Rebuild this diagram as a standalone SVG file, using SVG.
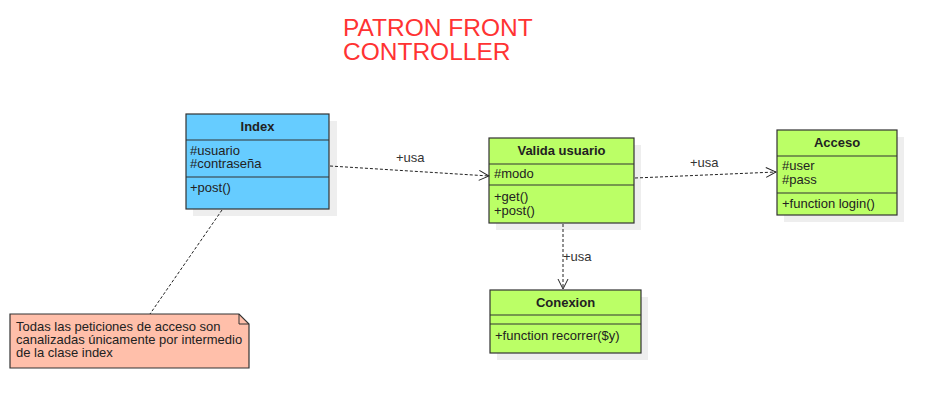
<svg xmlns="http://www.w3.org/2000/svg" width="937" height="410" viewBox="0 0 937 410">
<defs>
<style>
.box{stroke:#333;stroke-width:1.2}
.blue{fill:#66ccff}
.green{fill:#bbff66}
.sh{fill:#eeeeee}
.sep{stroke:#333;stroke-width:1.2}
text{font-family:"Liberation Sans",Arial,sans-serif;font-size:13px;fill:#222}
.t{font-weight:bold;text-anchor:middle}
.lbl{fill:#333}
.dash{fill:none;stroke:#222;stroke-width:1;stroke-dasharray:3,2}
.title{font-size:24.5px;fill:#ff3333}
</style>
<marker id="arr" viewBox="0 0 12 12" refX="11" refY="6" markerWidth="12" markerHeight="12" markerUnits="userSpaceOnUse" orient="auto">
<path d="M1,1 L11,6 L1,11" fill="none" stroke="#222" stroke-width="1"/>
</marker>
</defs>
<rect width="937" height="410" fill="#ffffff"/>
<g id="title">
<text class="title" x="343" y="36">PATRON FRONT</text>
<text class="title" x="343" y="60">CONTROLLER</text>
</g>
<g id="index">
<rect class="sh" x="193" y="121" width="144" height="95"/>
<rect class="box blue" x="186" y="114" width="143" height="95"/>
<line class="sep" x1="186" y1="140" x2="329" y2="140"/>
<line class="sep" x1="186" y1="177" x2="329" y2="177"/>
<text class="t" x="257.5" y="131">Index</text>
<text x="190" y="155">#usuario</text>
<text x="190" y="168">#contraseña</text>
<text x="190" y="192">+post()</text>
</g>
<g id="valida">
<rect class="sh" x="496" y="145" width="145" height="85"/>
<rect class="box green" x="489" y="138" width="145" height="85"/>
<line class="sep" x1="489" y1="164" x2="634" y2="164"/>
<line class="sep" x1="489" y1="185" x2="634" y2="185"/>
<text class="t" x="561.5" y="155">Valida usuario</text>
<text x="494" y="178">#modo</text>
<text x="494" y="201">+get()</text>
<text x="494" y="215">+post()</text>
</g>
<g id="acceso">
<rect class="sh" x="784" y="137" width="120" height="85"/>
<rect class="box green" x="777" y="130" width="120" height="85"/>
<line class="sep" x1="777" y1="156" x2="897" y2="156"/>
<line class="sep" x1="777" y1="193" x2="897" y2="193"/>
<text class="t" x="837" y="147">Acceso</text>
<text x="782" y="170">#user</text>
<text x="782" y="184">#pass</text>
<text x="782" y="208">+function login()</text>
</g>
<g id="conexion">
<rect class="sh" x="497" y="297" width="151" height="63"/>
<rect class="box green" x="490" y="290" width="151" height="63"/>
<line class="sep" x1="490" y1="315" x2="641" y2="315"/>
<line class="sep" x1="490" y1="324" x2="641" y2="324"/>
<text class="t" x="565.5" y="307">Conexion</text>
<text x="495" y="340">+function recorrer($y)</text>
</g>
<g id="note">
<path d="M10,314 L239,314 L249,324 L249,368 L10,368 Z" fill="#ffbfaa" stroke="#333" stroke-width="1.2"/>
<path d="M239,314 L239,324 L249,324" fill="none" stroke="#333" stroke-width="1"/>
<text x="16" y="331">Todas las peticiones de acceso son</text>
<text x="16" y="344">canalizadas únicamente por intermedio</text>
<text x="16" y="357">de la clase index</text>
</g>
<g id="connectors">
<path class="dash" d="M330,166 L489,176" marker-end="url(#arr)"/>
<text class="lbl" x="396" y="162">+usa</text>
<path class="dash" d="M635,178 L776,172" marker-end="url(#arr)"/>
<text class="lbl" x="690" y="167">+usa</text>
<path class="dash" d="M563,224 L563,289" marker-end="url(#arr)"/>
<text class="lbl" x="563" y="261">+usa</text>
<path class="dash" d="M222,210 L150,314"/>
</g>
</svg>
